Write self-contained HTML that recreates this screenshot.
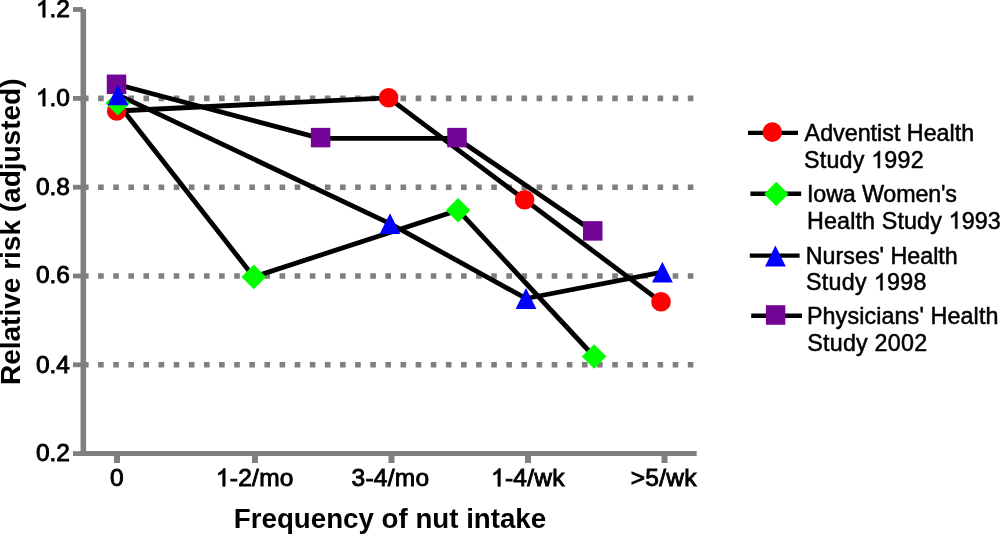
<!DOCTYPE html>
<html>
<head>
<meta charset="utf-8">
<style>
html,body{margin:0;padding:0;background:#fff;width:1000px;height:537px;overflow:hidden;}
svg{display:block;will-change:transform;}
text{font-family:"Liberation Sans",sans-serif;fill:#000;}
.tk{font-size:24.5px;stroke:#000;stroke-width:0.9px;}
.xl{letter-spacing:0.25px;}
.lg{font-size:23.3px;stroke:#000;stroke-width:0.5px;}
.xt{font-size:27.7px;font-weight:bold;}
.yt{font-size:28px;font-weight:bold;}
.h{fill-opacity:0;stroke-opacity:0;}
</style>
</head>
<body>
<svg width="1000" height="537" viewBox="0 0 1000 537">
<g stroke="#7f7f7f" stroke-width="5.6" stroke-dasharray="5.6 9.52" fill="none">
<line x1="83.0" y1="98.4" x2="694.5" y2="98.4"/>
<line x1="83.0" y1="187.2" x2="694.5" y2="187.2"/>
<line x1="83.0" y1="276.0" x2="694.5" y2="276.0"/>
<line x1="83.0" y1="364.8" x2="694.5" y2="364.8"/>
</g>
<g stroke="#7f7f7f" fill="none">
<line x1="83.3" y1="9" x2="83.3" y2="456" stroke-width="5.6"/>
<line x1="80.5" y1="453.6" x2="696.7" y2="453.6" stroke-width="5"/>
<g stroke-width="4.8">
<line x1="73" y1="9.5" x2="83" y2="9.5"/>
<line x1="73" y1="98.4" x2="83" y2="98.4"/>
<line x1="73" y1="187.2" x2="83" y2="187.2"/>
<line x1="73" y1="276.0" x2="83" y2="276.0"/>
<line x1="73" y1="364.8" x2="83" y2="364.8"/>
<line x1="73" y1="453.6" x2="83" y2="453.6"/>
</g><g stroke-width="6">
<line x1="117" y1="453" x2="117" y2="463"/>
<line x1="255" y1="453" x2="255" y2="463"/>
<line x1="391.5" y1="453" x2="391.5" y2="463"/>
<line x1="528" y1="453" x2="528" y2="463"/>
<line x1="664.5" y1="453" x2="664.5" y2="463"/>
</g></g>
<g transform="translate(70 17.2)"><text id="y12" class="tk" text-anchor="end"><tspan class="h">1</tspan>.2</text><path d="M-24.95 0.00L-27.10 0.00L-27.10 -13.72Q-27.88 -12.98 -29.11 -12.26Q-30.35 -11.53 -31.41 -11.14L-31.41 -13.22Q-29.60 -14.07 -28.26 -15.26Q-26.91 -16.47 -26.35 -17.61L-24.95 -17.61Z" stroke="#000" stroke-width="0.9"/></g>
<g transform="translate(70 106.10000000000001)"><text id="y10" class="tk" text-anchor="end"><tspan class="h">1</tspan>.0</text><path d="M-24.95 0.00L-27.10 0.00L-27.10 -13.72Q-27.88 -12.98 -29.11 -12.26Q-30.35 -11.53 -31.41 -11.14L-31.41 -13.22Q-29.60 -14.07 -28.26 -15.26Q-26.91 -16.47 -26.35 -17.61L-24.95 -17.61Z" stroke="#000" stroke-width="0.9"/></g>
<g transform="translate(70 194.89999999999998)"><text id="y8" class="tk" text-anchor="end">0.8</text></g>
<g transform="translate(70 282.9)"><text id="y6" class="tk" text-anchor="end">0.6</text></g>
<g transform="translate(70 372.5)"><text id="y4" class="tk" text-anchor="end">0.4</text></g>
<g transform="translate(70 461.3)"><text id="y2" class="tk" text-anchor="end">0.2</text></g>
<g transform="translate(116.9 486.2)"><text id="x0" class="tk xl" text-anchor="middle">0</text></g>
<g transform="translate(254.8 486.2)"><text id="x1" class="tk xl" text-anchor="middle"><tspan class="h">1</tspan>-2/mo</text><path d="M-29.76 0.00L-31.92 0.00L-31.92 -13.72Q-32.69 -12.98 -33.93 -12.26Q-35.16 -11.53 -36.22 -11.14L-36.22 -13.22Q-34.42 -14.07 -33.08 -15.26Q-31.72 -16.47 -31.16 -17.61L-29.76 -17.61Z" stroke="#000" stroke-width="0.9"/></g>
<g transform="translate(390.4 486.2)"><text id="x2" class="tk xl" text-anchor="middle">3-4/mo</text></g>
<g transform="translate(527.9 486.2)"><text id="x3" class="tk xl" text-anchor="middle"><tspan class="h">1</tspan>-4/wk</text><path d="M-27.72 0.00L-29.87 0.00L-29.87 -13.72Q-30.65 -12.98 -31.88 -12.26Q-33.11 -11.53 -34.18 -11.14L-34.18 -13.22Q-32.37 -14.07 -31.03 -15.26Q-29.68 -16.47 -29.12 -17.61L-27.72 -17.61Z" stroke="#000" stroke-width="0.9"/></g>
<g transform="translate(663.7 486.2)"><text id="x4" class="tk xl" text-anchor="middle">&gt;5/wk</text></g>
<g transform="translate(390 528.2) scale(1 1.03)"><text id="xt" class="xt" text-anchor="middle">Frequency of nut intake</text></g>
<g transform="translate(20.1 231.75) rotate(-90)"><text id="yt" class="yt" text-anchor="middle">Relative risk (adjusted)</text></g>
<g transform="translate(804.6 140.6) scale(1 1.02)"><text id="l0" class="lg" text-anchor="start" letter-spacing="0.0">Adventist Health</text></g>
<g transform="translate(804.0 168.0) scale(1 1.02)"><text id="l1" class="lg" text-anchor="start" letter-spacing="0.2">Study <tspan class="h">1</tspan>992</text><path d="M75.90 0.00L73.85 0.00L73.85 -13.05Q73.11 -12.34 71.94 -11.66Q70.76 -10.97 69.75 -10.59L69.75 -12.57Q71.47 -13.38 72.74 -14.52Q74.03 -15.67 74.56 -16.75L75.90 -16.75Z" stroke="#000" stroke-width="0.5"/></g>
<g transform="translate(807 201.5) scale(1 1.02)"><text id="l2" class="lg" text-anchor="start" letter-spacing="-0.14">Iowa Women's</text></g>
<g transform="translate(807 228.6) scale(1 1.02)"><text id="l3" class="lg" text-anchor="start" letter-spacing="0.14">Health Study <tspan class="h">1</tspan>993</text><path d="M150.27 0.00L148.23 0.00L148.23 -13.05Q147.49 -12.34 146.31 -11.66Q145.14 -10.97 144.13 -10.59L144.13 -12.57Q145.85 -13.38 147.12 -14.52Q148.41 -15.67 148.94 -16.75L150.27 -16.75Z" stroke="#000" stroke-width="0.5"/></g>
<g transform="translate(805.8 263.5) scale(1 1.02)"><text id="l4" class="lg" text-anchor="start" letter-spacing="0.0">Nurses' Health</text></g>
<g transform="translate(806.0 290.3) scale(1 1.02)"><text id="l5" class="lg" text-anchor="start" letter-spacing="0.3">Study <tspan class="h">1</tspan>998</text><path d="M76.48 0.00L74.44 0.00L74.44 -13.05Q73.70 -12.34 72.52 -11.66Q71.35 -10.97 70.34 -10.59L70.34 -12.57Q72.06 -13.38 73.33 -14.52Q74.62 -15.67 75.15 -16.75L76.48 -16.75Z" stroke="#000" stroke-width="0.5"/></g>
<g transform="translate(806.9 324.0) scale(1 1.02)"><text id="l6" class="lg" text-anchor="start" letter-spacing="0.12">Physicians' Health</text></g>
<g transform="translate(807.3 350.6) scale(1 1.02)"><text id="l7" class="lg" text-anchor="start" letter-spacing="0.22">Study 2002</text></g>
<g stroke="#000" stroke-width="4.8" fill="none" stroke-linejoin="round">
<polyline points="116.7,111 388.6,97.8 524.6,199.7 661,301.8"/>
<polyline points="117.7,103.3 253.8,276.9 458.1,210.2 594.1,356.5"/>
<polyline points="118,94.8 390,223.65 526,298.5 662.4,272.1"/>
<polyline points="116.5,84.3 320.6,138.4 457,138.4 592.75,230.9"/>
</g>
<g fill="#ff0000">
<circle cx="116.7" cy="111" r="9.8"/>
<circle cx="388.6" cy="97.8" r="9.8"/>
<circle cx="524.6" cy="199.7" r="9.8"/>
<circle cx="661" cy="301.8" r="9.8"/>
</g>
<g fill="#00ff00">
<path d="M117.7 91.00L130.00 103.3L117.7 115.60L105.40 103.3Z"/>
<path d="M253.8 264.60L266.10 276.9L253.8 289.20L241.50 276.9Z"/>
<path d="M458.1 197.90L470.40 210.2L458.1 222.50L445.80 210.2Z"/>
<path d="M594.1 344.20L606.40 356.5L594.1 368.80L581.80 356.5Z"/>
</g>
<g fill="#730596">
<rect x="106.75" y="74.55" width="19.5" height="19.5"/>
<rect x="310.85" y="127.85" width="19.5" height="19.5"/>
<rect x="447.25" y="127.85" width="19.5" height="19.5"/>
<rect x="583.00" y="221.15" width="19.5" height="19.5"/>
</g>
<g fill="#0000ff">
<path d="M118 84.40L128.40 105.20L107.60 105.20Z"/>
<path d="M390 213.25L400.40 234.05L379.60 234.05Z"/>
<path d="M526 288.10L536.40 308.90L515.60 308.90Z"/>
<path d="M662.4 261.70L672.80 282.50L652.00 282.50Z"/>
</g>
<g stroke="#000" stroke-width="4.4">
<line x1="748" y1="132.9" x2="798" y2="132.9"/>
<line x1="750.4" y1="193.7" x2="801.2" y2="193.7"/>
<line x1="749.8" y1="255.6" x2="799.6" y2="255.6"/>
<line x1="751.2" y1="315.8" x2="802" y2="315.8"/>
</g>
<circle cx="772.3" cy="132.1" r="9.8" fill="#ff0000"/>
<path d="M776.3 181.8L788.5 194L776.3 206.2L764.1 194Z" fill="#00ff00"/>
<path d="M775.4 245.6L785.8 266.4L765 266.4Z" fill="#0000ff"/>
<rect x="765.9" y="305.2" width="19.4" height="19.6" fill="#730596"/>
</svg>
</body>
</html>
